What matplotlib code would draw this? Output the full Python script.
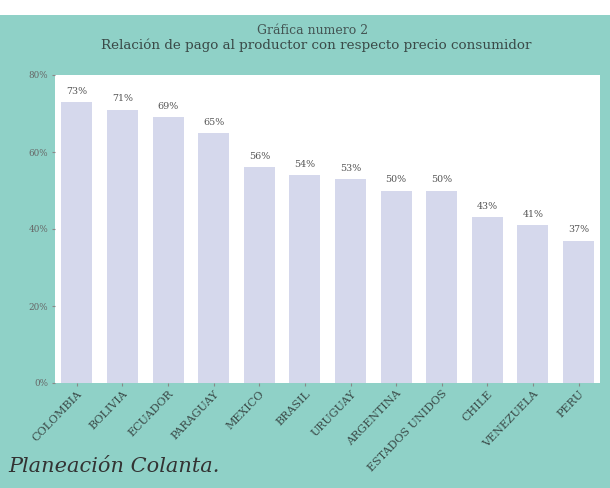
import matplotlib.pyplot as plt
from matplotlib.patches import Rectangle

paises = ['COLOMBIA', 'BOLIVIA', 'ECUADOR', 'PARAGUAY', 'MEXICO', 'BRASIL',
          'URUGUAY', 'ARGENTINA', 'ESTADOS UNIDOS', 'CHILE', 'VENEZUELA', 'PERU']
valores = [73, 71, 69, 65, 56, 54, 53, 50, 50, 43, 41, 37]
yticks = [0, 20, 40, 60, 80]

teal = '#8fd1c7'
barra = '#d5d8ec'
plt.rcParams['font.family'] = ['DejaVu Serif']

fig = plt.figure(figsize=(6.1, 4.88), dpi=100)
fig.patch.set_facecolor(teal)
# franja blanca arriba (escaneo)
fig.patches.append(Rectangle((0, 1 - 15/488), 1, 15/488, transform=fig.transFigure,
                             facecolor='white', edgecolor='none', zorder=0))

ax = fig.add_axes([55/610, 1 - 383/488, 545/610, 308/488])
ax.set_facecolor('white')
x = range(len(paises))
ax.bar(x, valores, width=0.68, color=barra, zorder=2)
for i, v in zip(x, valores):
    ax.text(i, v + 1.6, f'{v}%', ha='center', va='bottom', fontsize=6.8, color='#555555')

ax.set_xlim(-0.48, 11.47)
ax.set_ylim(0, 80)
ax.set_yticks(yticks)
ax.set_yticklabels([f'{t}%' for t in yticks], fontsize=6.3, color='#666666')
ax.set_xticks(list(x))
ax.set_xticklabels(paises, rotation=46, ha='right', rotation_mode='anchor',
                   fontsize=8, color='#3a4a48')
ax.tick_params(axis='y', length=2, color='#888888', pad=3)
ax.tick_params(axis='x', length=2, color='#888888', pad=2)
for s in ax.spines.values():
    s.set_visible(False)

fig.text(313/610, 1 - 30/488, 'Gráfica numero 2', ha='center', va='center',
         fontsize=9, color='#445554')
fig.text(316/610, 1 - 45/488, 'Relación de pago al productor con respecto precio consumidor',
         ha='center', va='center', fontsize=9.7, color='#3a4a48')
fig.text(8/610, 1 - 466/488, 'Planeación Colanta.', ha='left', va='center',
         fontsize=15, style='italic', color='#333333')

fig.savefig('out.png', dpi=100, facecolor=fig.get_facecolor())
